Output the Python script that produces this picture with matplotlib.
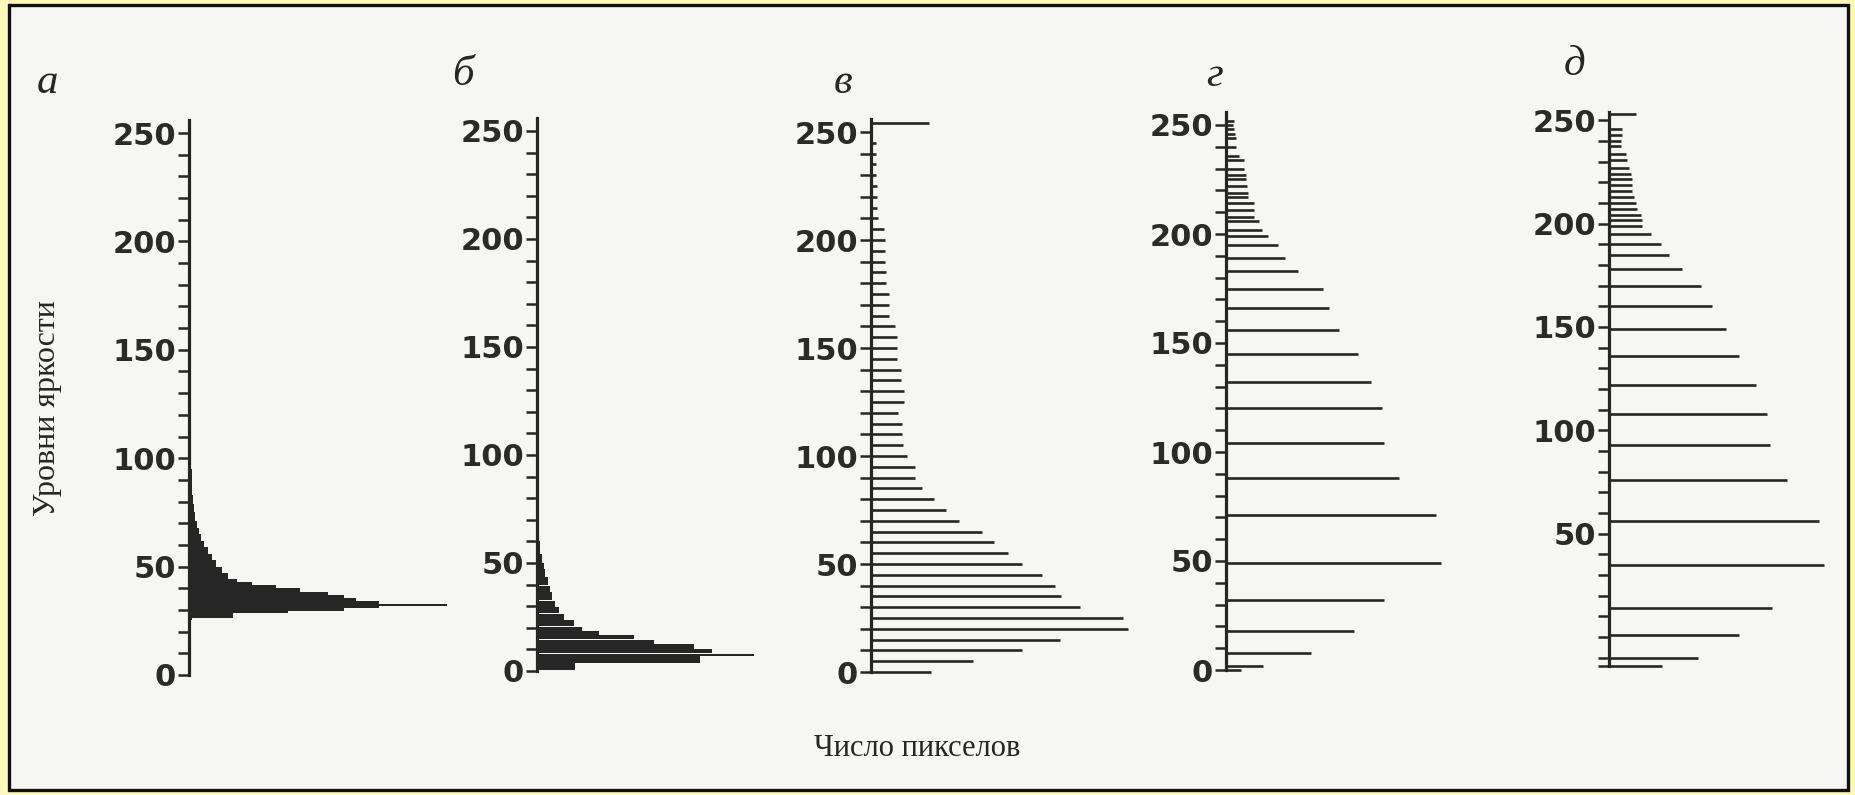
import numpy as np
import matplotlib
matplotlib.use("Agg")
import matplotlib.pyplot as plt
from matplotlib.patches import Rectangle
from matplotlib.ticker import FixedLocator, MultipleLocator, NullFormatter


# --- data (brightness level -> relative pixel count) ---

# a: step profile, count holds from level i to level i+1
a_levels = [25.4, 26.2, 28.5, 29.7, 30.8, 31.8, 32.6, 34, 35.5, 37, 38.5, 40, 41.5,
            43, 44.5, 47, 50, 53, 56, 59, 62, 65, 68, 71, 75, 79, 83, 95, 105, 116]
a_counts = [3, 44, 99, 155, 190, 258, 190, 167, 155, 139, 111, 87, 63,
            48, 39, 33, 27, 23, 19, 15, 12, 10, 8, 6, 5, 4, 2.6, 1.9, 1.4, 0]

# б: bins (lower edge, upper edge, count), white gaps between some bins
b_lo = [0.5, 3.5, 6.8, 8.3, 10.3, 12.3, 14.8, 16.5, 18.5, 21.0, 23.5, 27.0, 29.5,
        33.0, 36.5, 40.0, 43.5, 47, 50, 54, 60, 66]
b_hi = [3.5, 6.8, 7.8, 10.3, 12.3, 14.3, 16.5, 18.5, 20.5, 23.5, 26.5, 29.5, 32.5,
        36.5, 39.5, 43.5, 47, 50, 54, 60, 66, 74]
b_counts = [38, 163, 217, 175, 157, 117, 97, 62, 45, 37, 27, 22, 18,
            15, 13, 11, 8, 7, 5, 3, 2, 1.2]

# в: single lines
v_levels = [0, 5, 10, 15, 20, 25, 30, 35, 40, 45, 50, 55, 60, 65, 70, 75, 80, 85,
            90, 95, 100, 105, 110, 115, 120, 125, 130, 135, 140, 145, 150, 155,
            160, 165, 170, 175, 180, 185, 190, 195, 200, 205, 210, 215, 220, 225,
            230, 235, 240, 245, 254]
v_counts = [60, 102, 151, 189, 257, 252, 209, 190, 184, 171, 151, 137, 123, 111, 88,
            75, 63, 51, 44, 44, 36, 32, 31, 31, 27, 33, 33, 30, 30, 26, 26, 26,
            24, 18, 18, 18, 15, 15, 14, 14, 14, 13, 7, 6, 6, 6, 5, 5, 5, 5, 58]

# г
g_levels = [0, 2, 8, 18, 32, 49, 71, 88, 104, 120, 132, 145, 156, 166, 175, 183,
            189, 195, 199, 202, 206, 208, 211, 214, 217, 219, 222, 225, 227, 230,
            234, 236, 240, 244, 246, 248, 250, 252]
g_counts = [15, 37, 85, 128, 158, 215, 210, 173, 158, 156, 145, 132, 113, 103, 97,
            72, 59, 52, 42, 36, 33, 28, 28, 28, 22, 22, 21, 20, 20, 18, 18, 13,
            10, 10, 9, 8, 7, 8]

# д
d_levels = [-14, -10, 1, 14, 35, 56, 76, 93, 108, 122, 136, 149, 160, 170, 178,
            185, 190, 195, 199, 201.5, 204, 207, 210, 213, 215.8, 218.6, 221.5,
            224, 227, 231, 233.8, 237.6, 240, 243, 246, 253]
d_counts = [53, 89, 130, 163, 215, 210, 178, 161, 158, 147, 130, 117, 103, 92, 73,
            60, 52, 42, 33, 33, 32, 28, 27, 25, 23, 23, 23, 22, 20, 18, 17, 12,
            12, 13, 13, 27]

panel_names = ["а", "б", "в", "г", "д"]
tick_values = [0, 50, 100, 150, 200, 250]


W, H = 1855, 795
INK = "#262626"

fig = plt.figure(figsize=(W / 100, H / 100), dpi=100)
fig.patch.set_facecolor("#fff9b8")
fig.patches.append(Rectangle((9 / W, 5 / H), (1848 - 9) / W, (790 - 5) / H,
                             transform=fig.transFigure, facecolor="#f6f6f4",
                             edgecolor="#111111", linewidth=2.4, zorder=-5))


def add_panel(x_spine, y_zero, scale, lo, hi, width_px, labels):
    left = x_spine / W
    bottom = 1 - (y_zero - lo * scale) / H
    height = (hi - lo) * scale / H
    ax = fig.add_axes([left, bottom, width_px / W, height])
    ax.set_zorder(2)
    ax.set_ylim(lo, hi)
    ax.set_xlim(0, width_px)
    ax.patch.set_alpha(0)
    for s in ["top", "right", "bottom"]:
        ax.spines[s].set_visible(False)
    ax.spines["left"].set_linewidth(2.3)
    ax.spines["left"].set_color(INK)
    ax.set_xticks([])
    ax.yaxis.set_major_locator(FixedLocator(tick_values))
    ax.yaxis.set_minor_locator(MultipleLocator(10))
    ax.yaxis.set_minor_formatter(NullFormatter())
    ax.set_yticklabels([str(t) if t in labels else "" for t in tick_values])
    ax.tick_params(axis="y", which="both", direction="out", length=8, width=1.8,
                   color=INK, pad=1.5)
    ax.tick_params(axis="y", which="major", labelsize=22, labelcolor="#2a2a2a")
    for lab in ax.get_yticklabels():
        lab.set_fontweight("bold")
    return ax


all_labels = tick_values

ax_a = add_panel(189, 675, 2.168, 0, 256, 300, all_labels)
ax_a.fill_betweenx(a_levels, 0, a_counts, step="post", color=INK, linewidth=0)

ax_b = add_panel(537, 671, 2.16, 0, 256, 300, all_labels)
ax_b.barh(b_lo, b_counts, height=np.array(b_hi) - np.array(b_lo), align="edge",
          color=INK, linewidth=0)

ax_v = add_panel(871, 672, 2.16, 0, 256, 300, all_labels)
ax_v.hlines(v_levels, 0, v_counts, color=INK, linewidth=1.9, clip_on=False)

ax_g = add_panel(1226, 670, 2.18, 0, 256, 300, all_labels)
ax_g.hlines(g_levels, 0, g_counts, color=INK, linewidth=1.9, clip_on=False)

ax_d = add_panel(1609, 637, 2.067, -14, 254, 240, [50, 100, 150, 200, 250])
ax_d.hlines(d_levels, 0, d_counts, color=INK, linewidth=1.9, clip_on=False)
ax_d.set_yticks(tick_values + [-14])
ax_d.set_yticklabels([str(t) if t > 0 else "" for t in tick_values] + [""])
for lab in ax_d.get_yticklabels():
    lab.set_fontweight("bold")

title_pos = [(47, 83), (463, 75), (843, 83), (1215, 76), (1575, 65)]
for name, (tx, ty) in zip(panel_names, title_pos):
    fig.text(tx / W, 1 - ty / H, name, fontsize=31, style="italic",
             family="Liberation Serif", color="#262626", ha="center", va="center")

fig.text(48 / W, 1 - 408 / H, "Уровни яркости", rotation=90, fontsize=23,
         family="Liberation Serif", color="#262626", ha="center", va="center")
fig.text(917 / W, 1 - 748 / H, "Число пикселов", fontsize=22,
         family="Liberation Serif", color="#262626", ha="center", va="center")

fig.savefig("out.png", dpi=100, facecolor=fig.get_facecolor())
